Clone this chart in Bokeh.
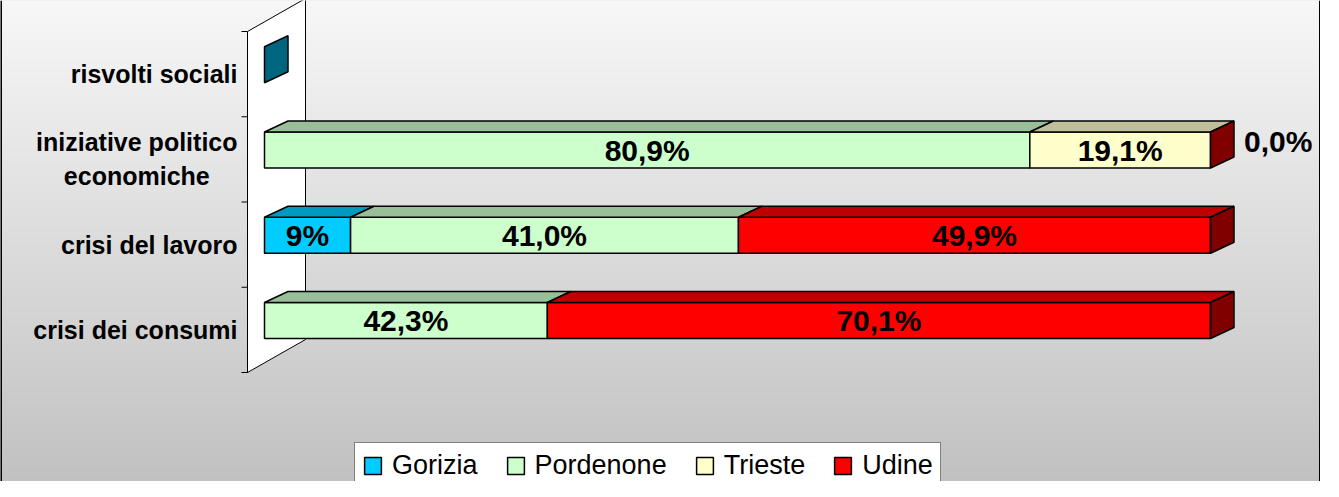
import numpy as np
from bokeh.plotting import figure
from bokeh.models import Range1d, Legend, LegendItem, Span
from bokeh.core.properties import value
from bokeh.embed import file_html
from bokeh.resources import INLINE

# ---------------- data ----------------
categories = ["crisi dei consumi", "crisi del lavoro",
              "iniziative politico\neconomiche", "risvolti sociali"]
series = ["Gorizia", "Pordenone", "Trieste", "Udine"]
gorizia = [None, 9.1, None, 0.0]
pordenone = [29.9, 41.0, 80.9, None]
trieste = [None, None, 19.1, None]
udine = [70.1, 49.9, 0.0, None]
gorizia_lbl = ["", "9%", "", ""]
pordenone_lbl = ["42,3%", "41,0%", "80,9%", ""]
trieste_lbl = ["", "", "19,1%", ""]
udine_lbl = ["70,1%", "49,9%", "0,0%", ""]

values = [gorizia, pordenone, trieste, udine]
labels = [gorizia_lbl, pordenone_lbl, trieste_lbl, udine_lbl]

front_colors = ["#00CCFF", "#CCFFCC", "#FFFFCC", "#FF0000"]
top_colors = ["#0099BF", "#99BF99", "#BFBF99", "#BF0000"]
side_colors = ["#006680", "#668066", "#80806A", "#800000"]

# ---------------- layout ----------------
W, H = 1320, 481
X0_PX = 264.0          # pixel of 0 %
PX_PER_PCT = 9.46
Y0_PX = 372.0          # pixel (from top) of the category floor
PX_PER_CAT = 85.25

def dxp(px):
    return px / PX_PER_PCT

def dyp(px):
    return px / PX_PER_CAT

x_start, x_end = -X0_PX / PX_PER_PCT, (W - X0_PX) / PX_PER_PCT
y_start, y_end = -(H - Y0_PX) / PX_PER_CAT, Y0_PX / PX_PER_CAT

BAR_B = dyp(34)
BAR_H = dyp(36)
DX, DY = dxp(23.5), dyp(11)
FONT = "Liberation Sans"
CAT_FS = 25

# approximate bold glyph widths (em) to centre the lines of a wrapped label
_BW = {"a": .556, "c": .556, "e": .556, "h": .611, "i": .278, "l": .278,
       "m": .889, "n": .611, "o": .611, "p": .611, "t": .333, "v": .556,
       "z": .5, " ": .278, "s": .556, "r": .389, "d": .611, "u": .611}

def text_w(s):
    return sum(_BW.get(ch, .6) for ch in s) * CAT_FS

p = figure(width=W, height=H, x_range=Range1d(x_start, x_end),
           y_range=Range1d(y_start, y_end), output_backend="svg",
           toolbar_location=None, min_border=0,
           x_axis_location=None, y_axis_location=None)
p.grid.visible = False
p.outline_line_color = None
p.background_fill_color = "#e0e0e0"
p.border_fill_color = "#e0e0e0"

# background gradient
img = np.empty((H, 1), dtype=np.uint32)
view = img.view(dtype=np.uint8).reshape((H, 1, 4))
for r in range(H):
    page_y = 8 + (H - 1 - r) + 0.5
    g = int(round(248 - 56 * page_y / 497))
    view[r, 0, 0] = g
    view[r, 0, 1] = g
    view[r, 0, 2] = g
    view[r, 0, 3] = 255
p.image_rgba(image=[img], x=x_start, y=y_start, dw=x_end - x_start, dh=y_end - y_start)

# side borders
for loc in (x_start, x_end):
    p.add_layout(Span(location=loc, dimension="height", line_color="black", line_width=3))

# back wall
n = len(categories)
wf, wb = dxp(-17), dxp(41)
wdy = dyp(33)
p.patch([wf, wf, wb, wb], [0, n, n + wdy, wdy], fill_color="white",
        line_color="black", line_width=1)
# axis ticks
p.segment(x0=[wf - dxp(6)] * (n + 1), y0=list(range(n + 1)),
          x1=[wf] * (n + 1), y1=list(range(n + 1)), line_color="black", line_width=1)

# category labels (each line of a wrapped label centred within the block)
right_px = -27.0   # right edge of the category labels, px from 0 %
cx, cy, ct = [], [], []
line_gap = dyp(34)
for i, cat in enumerate(categories):
    lines = cat.split("\n")
    widths = [text_w(l) for l in lines]
    mw = max(widths)
    for k, (ln, w) in enumerate(zip(lines, widths)):
        cx.append(dxp(right_px - (mw - w) / 2))
        cy.append(i + 0.5 + ((len(lines) - 1) / 2 - k) * line_gap)
        ct.append(ln)
p.text(x=cx, y=cy, text=ct, text_align="right", text_baseline="middle",
       text_font=value(FONT), text_font_style="bold", text_font_size=f"{CAT_FS}px",
       text_color="black")

# bars
front_renderers = []
lx, ly, lt, la = [], [], [], []
for s in range(len(series)):
    fl, fr, fb, ft = [], [], [], []
    txs, tys = [], []
    for i in range(n):
        v = values[s][i]
        if v is None:
            continue
        cum = sum(values[k][i] for k in range(s) if values[k][i] is not None)
        b, t = i + BAR_B, i + BAR_B + BAR_H
        if v > 0:
            fl.append(cum); fr.append(cum + v); fb.append(b); ft.append(t)
            txs.append([cum, cum + DX, cum + v + DX, cum + v])
            tys.append([t, t + DY, t + DY, t])
        lbl = labels[s][i]
        if lbl:
            if v > 0:
                lx.append(cum + v / 2); ly.append((b + t) / 2); lt.append(lbl); la.append("center")
            else:
                lx.append(cum + DX + dxp(10)); ly.append((b + t) / 2 + DY * 0.8)
                lt.append(lbl); la.append("left")
    r = p.quad(left=fl, right=fr, bottom=fb, top=ft, fill_color=front_colors[s],
               line_color="black", line_width=1.5)
    front_renderers.append(r)
    if txs:
        p.patches(txs, tys, fill_color=top_colors[s], line_color="black", line_width=1.5)

# end side faces (colour of last series present in the row)
sxs, sys_, scol = [], [], []
for i in range(n):
    present = [s for s in range(len(series)) if values[s][i] is not None]
    last = present[-1]
    end = sum(values[s][i] for s in present)
    b, t = i + BAR_B, i + BAR_B + BAR_H
    sxs.append([end, end, end + DX, end + DX])
    sys_.append([b, t, t + DY, b + DY])
    scol.append(side_colors[last])
p.patches(sxs, sys_, fill_color=scol, line_color="black", line_width=1.5)

# value labels
for align in ("center", "left"):
    idx = [k for k in range(len(lt)) if la[k] == align]
    p.text(x=[lx[k] for k in idx], y=[ly[k] for k in idx], text=[lt[k] for k in idx],
           text_align=align, text_baseline="middle", text_font=value(FONT),
           text_font_style="bold", text_font_size="30px", text_color="black")

legend = Legend(items=[LegendItem(label=series[s], renderers=[front_renderers[s]])
                       for s in range(len(series))],
                orientation="horizontal", location=(354, -8),
                glyph_width=21, glyph_height=21, label_standoff=9, spacing=27,
                padding=7, margin=0, border_line_color="black", border_line_width=1.5,
                background_fill_color="white", background_fill_alpha=1.0,
                label_text_font=FONT, label_text_font_size="27px",
                label_text_color="black")
p.add_layout(legend)

open("out.html", "w").write(file_html(p, INLINE))
